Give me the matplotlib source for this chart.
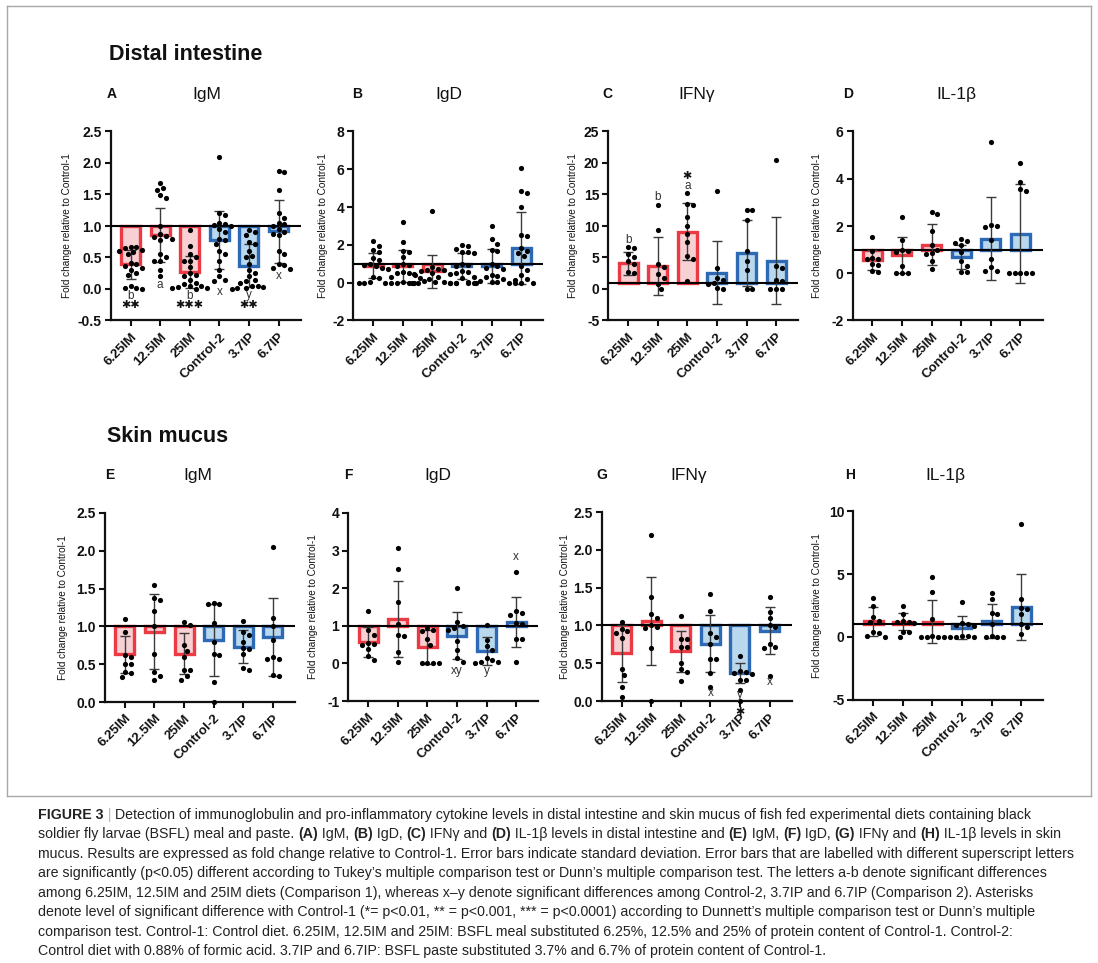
import numpy as np
import matplotlib
matplotlib.use('Agg')
import matplotlib.pyplot as plt
from matplotlib import font_manager
from matplotlib.font_manager import FontProperties
from matplotlib.lines import Line2D

W, H = 1098, 963

categories = ["6.25IM", "12.5IM", "25IM", "Control-2", "3.7IP", "6.7IP"]

# ---------------- Distal intestine ----------------
# (A) IgM
a_means = [0.39, 0.86, 0.27, 0.78, 0.37, 0.92]
a_sds = [0.23, 0.43, 0.25, 0.46, 0.34, 0.50]
a_points = [
    [0.67, 0.66, 0.65, 0.62, 0.60, 0.58, 0.56, 0.42, 0.40, 0.37, 0.33, 0.30, 0.25, 0.22, 0.04, 0.02, 0.01, 0.0],
    [1.69, 1.60, 1.57, 1.49, 1.45, 1.00, 0.88, 0.84, 0.82, 0.80, 0.78, 0.55, 0.50, 0.45, 0.44, 0.30, 0.20],
    [0.94, 0.68, 0.55, 0.50, 0.45, 0.44, 0.35, 0.25, 0.22, 0.20, 0.15, 0.10, 0.08, 0.05, 0.04, 0.03, 0.02, 0.01, 0.0],
    [2.09, 1.20, 1.18, 1.05, 1.03, 1.02, 1.00, 0.95, 0.90, 0.80, 0.78, 0.72, 0.60, 0.55, 0.45, 0.30, 0.20, 0.15, 0.13],
    [0.93, 0.90, 0.85, 0.75, 0.72, 0.60, 0.52, 0.50, 0.40, 0.30, 0.25, 0.20, 0.15, 0.12, 0.10, 0.05, 0.04, 0.03, 0.02, 0.01, 0.0],
    [1.88, 1.85, 1.57, 1.20, 1.13, 1.05, 1.03, 1.00, 0.95, 0.90, 0.88, 0.85, 0.60, 0.55, 0.40, 0.38, 0.33, 0.32],
]
# (B) IgD
b_means = [0.90, 0.88, 0.60, 0.88, 0.88, 1.85]
b_sds = [0.65, 0.85, 0.88, 0.67, 0.90, 1.90]
b_points = [
    [2.2, 1.95, 1.75, 1.6, 1.3, 1.2, 1.0, 0.95, 0.9, 0.8, 0.7, 0.3, 0.25, 0.02, 0.0, 0.0, 0.0, 0.0],
    [3.2, 2.15, 1.7, 1.6, 1.35, 1.0, 0.95, 0.9, 0.55, 0.5, 0.5, 0.45, 0.3, 0.25, 0.05, 0.0, 0.0, 0.0],
    [3.82, 0.85, 0.7, 0.68, 0.65, 0.6, 0.5, 0.45, 0.4, 0.3, 0.2, 0.1, 0.05, 0.02, 0.0, 0.0, 0.0, 0.0],
    [2.0, 1.95, 1.8, 1.65, 1.6, 1.55, 1.0, 0.95, 0.9, 0.6, 0.55, 0.5, 0.3, 0.25, 0.02, 0.0, 0.0, 0.0],
    [3.0, 2.3, 2.05, 1.75, 1.7, 1.0, 0.9, 0.8, 0.75, 0.4, 0.35, 0.3, 0.2, 0.1, 0.05, 0.02, 0.0, 0.0, 0.0, 0.0],
    [6.05, 4.85, 4.75, 4.0, 2.5, 2.45, 1.85, 1.7, 1.55, 1.4, 0.9, 0.65, 0.4, 0.2, 0.15, 0.0, 0.0],
]
# (C) IFNγ
c_means = [4.1, 3.7, 9.1, 2.6, 5.7, 4.45]
c_sds = [1.8, 4.6, 4.5, 5.0, 5.2, 6.9]
c_points = [
    [6.6, 6.5, 5.6, 5.0, 4.4, 4.0, 2.7, 2.5],
    [13.3, 9.3, 4.0, 3.5, 2.4, 1.8, 0.8, 0.0],
    [15.2, 13.5, 13.3, 11.5, 10.0, 8.8, 7.5, 5.3, 4.7, 1.2],
    [15.6, 3.4, 1.8, 1.5, 1.0, 0.8, 0.1, 0.0],
    [12.6, 12.6, 10.9, 6.0, 4.5, 3.0, 0.0, 0.0],
    [20.4, 3.6, 3.4, 1.5, 1.2, 0.0, 0.0, 0.0],
]
# (D) IL-1β
d_means = [0.57, 0.78, 1.20, 0.70, 1.47, 1.68]
d_sds = [0.42, 0.77, 0.87, 0.50, 1.74, 2.08]
d_points = [
    [1.52, 0.95, 0.65, 0.62, 0.6, 0.4, 0.35, 0.1, 0.05],
    [2.38, 1.4, 1.0, 0.95, 0.9, 0.3, 0.0, 0.0, 0.0],
    [2.6, 2.5, 1.8, 1.2, 1.0, 0.85, 0.8, 0.5, 0.2],
    [1.45, 1.35, 1.3, 1.2, 0.9, 0.5, 0.3, 0.05, 0.05],
    [5.57, 2.05, 1.98, 1.95, 1.4, 0.6, 0.25, 0.1, 0.1],
    [4.65, 3.85, 3.55, 3.5, 0.0, 0.0, 0.0, 0.0, 0.0],
]

# ---------------- Skin mucus ----------------
# (E) IgM
e_means = [0.63, 0.93, 0.64, 0.82, 0.73, 0.86]
e_sds = [0.24, 0.50, 0.27, 0.47, 0.22, 0.51]
e_points = [
    [1.1, 0.92, 0.62, 0.6, 0.5, 0.5, 0.4, 0.38, 0.33],
    [1.55, 1.38, 1.35, 1.2, 1.0, 0.64, 0.4, 0.34, 0.29],
    [1.06, 1.02, 0.75, 0.68, 0.6, 0.42, 0.42, 0.35, 0.29],
    [1.31, 1.3, 1.29, 1.04, 0.8, 0.63, 0.62, 0.26, 0.0],
    [1.07, 0.93, 0.88, 0.8, 0.72, 0.7, 0.64, 0.45, 0.42],
    [2.05, 1.11, 1.0, 0.82, 0.6, 0.57, 0.57, 0.36, 0.34],
]
# (F) IgD
f_means = [0.58, 1.18, 0.44, 0.74, 0.32, 1.10]
f_sds = [0.40, 1.00, 0.45, 0.62, 0.37, 0.67]
f_points = [
    [1.4, 0.88, 0.75, 0.55, 0.52, 0.5, 0.38, 0.2, 0.08],
    [3.07, 2.5, 1.63, 1.05, 0.75, 0.73, 0.3, 0.04],
    [0.95, 0.9, 0.85, 0.65, 0.5, 0.0, 0.0, 0.0, 0.0],
    [2.0, 1.1, 1.0, 0.95, 0.9, 0.6, 0.35, 0.15, 0.05],
    [1.02, 0.62, 0.45, 0.35, 0.15, 0.1, 0.05, 0.03, 0.02],
    [2.42, 1.4, 1.33, 1.3, 1.08, 1.05, 0.65, 0.65, 0.05],
]
# (G) IFNγ
g_means = [0.63, 1.06, 0.66, 0.76, 0.37, 0.93]
g_sds = [0.38, 0.58, 0.27, 0.38, 0.13, 0.31]
g_points = [
    [1.04, 0.95, 0.92, 0.9, 0.83, 0.42, 0.35, 0.18, 0.05],
    [2.2, 1.38, 1.15, 1.1, 1.0, 0.98, 0.97, 0.7, 0.0],
    [1.12, 0.82, 0.82, 0.72, 0.72, 0.5, 0.42, 0.38, 0.26],
    [1.42, 1.19, 0.9, 0.85, 0.75, 0.55, 0.55, 0.37, 0.18],
    [0.6, 0.4, 0.38, 0.37, 0.36, 0.28, 0.28, 0.14, 0.0],
    [1.37, 1.18, 1.1, 1.0, 0.98, 0.75, 0.72, 0.7, 0.33],
]
# (H) IL-1β
h_means = [1.24, 1.20, 1.22, 0.72, 1.27, 2.38]
h_sds = [1.15, 0.68, 1.75, 0.93, 1.35, 2.62]
h_points = [
    [3.1, 2.45, 1.6, 1.3, 1.2, 0.4, 0.3, 0.1, 0.0],
    [2.45, 1.8, 1.3, 1.2, 1.15, 1.1, 0.4, 0.35, 0.0],
    [4.75, 3.55, 1.45, 0.05, 0.0, 0.0, 0.0, 0.0, 0.0],
    [2.8, 1.1, 1.0, 0.95, 0.85, 0.1, 0.05, 0.0, 0.0],
    [3.5, 3.0, 1.9, 1.8, 1.0, 0.1, 0.0, 0.0, 0.0],
    [9.0, 3.05, 2.3, 2.25, 1.8, 1.0, 0.8, 0.2],
]

# significance letters (category index, y, text) and asterisks (category index, y, count)
a_letters = [(0, -0.11, 'b'), (1, 0.07, 'a'), (2, -0.11, 'b'), (3, -0.05, 'x'), (4, -0.10, 'y'), (5, 0.20, 'x')]
a_stars = [(0, -0.255, 2), (2, -0.255, 3), (4, -0.255, 2)]
c_letters = [(0, 7.8, 'b'), (1, 14.6, 'b'), (2, 16.3, 'a')]
c_stars = [(2, 18.0, 1)]
f_letters = [(3, -0.21, 'xy'), (4, -0.21, 'y'), (5, 2.83, 'x')]
g_letters = [(3, 0.10, 'x'), (4, 0.075, 'y'), (5, 0.25, 'x')]
g_stars = [(4, -0.14, 1)]

panel_titles = ["IgM", "IgD", "IFNγ", "IL-1β", "IgM", "IgD", "IFNγ", "IL-1β"]
panel_letters = ["A", "B", "C", "D", "E", "F", "G", "H"]

# ---------------- styling / layout ----------------
RED_EDGE, RED_FILL = "#ec3a44", "#f7d0d3"
BLUE_EDGE, BLUE_FILL = "#2e69b5", "#b9d8ee"
edge_cols = [RED_EDGE] * 3 + [BLUE_EDGE] * 3
fill_cols = [RED_FILL] * 3 + [BLUE_FILL] * 3
SANS = ['Liberation Sans', 'DejaVu Sans']
XLIM = (-0.67, 5.75)

panels = [
    dict(m=a_means, s=a_sds, p=a_points, left=110.7, top=131.5, bot=320.5, ylim=(-0.5, 2.5),
         ticks=np.arange(-0.5, 2.51, 0.5), fmt="{:.1f}", ylx=67, let=(112, 94), tit=(207, 94),
         letters=a_letters, stars=a_stars),
    dict(m=b_means, s=b_sds, p=b_points, left=353.3, top=131.5, bot=320.5, ylim=(-2, 8),
         ticks=np.arange(-2, 8.1, 2), fmt="{:.0f}", ylx=323, let=(357, 94), tit=(449, 94),
         letters=[], stars=[]),
    dict(m=c_means, s=c_sds, p=c_points, left=608.3, top=131.5, bot=320.5, ylim=(-5, 25),
         ticks=np.arange(-5, 25.1, 5), fmt="{:.0f}", ylx=573, let=(607, 94), tit=(697, 94),
         letters=c_letters, stars=c_stars),
    dict(m=d_means, s=d_sds, p=d_points, left=852.5, top=131.5, bot=320.5, ylim=(-2, 6),
         ticks=np.arange(-2, 6.1, 2), fmt="{:.0f}", ylx=817, let=(848, 94), tit=(956, 94),
         letters=[], stars=[]),
    dict(m=e_means, s=e_sds, p=e_points, left=105.0, top=513.0, bot=702.0, ylim=(0, 2.5),
         ticks=np.arange(0, 2.51, 0.5), fmt="{:.1f}", ylx=63, let=(110, 475), tit=(198, 475),
         letters=[], stars=[]),
    dict(m=f_means, s=f_sds, p=f_points, left=348.3, top=513.0, bot=701.0, ylim=(-1, 4),
         ticks=np.arange(-1, 4.1, 1), fmt="{:.0f}", ylx=313, let=(348, 475), tit=(438, 475),
         letters=f_letters, stars=[]),
    dict(m=g_means, s=g_sds, p=g_points, left=601.7, top=512.0, bot=701.0, ylim=(0, 2.5),
         ticks=np.arange(0, 2.51, 0.5), fmt="{:.1f}", ylx=565, let=(602, 475), tit=(689, 475),
         letters=g_letters, stars=g_stars),
    dict(m=h_means, s=h_sds, p=h_points, left=853.3, top=511.5, bot=699.5, ylim=(-5, 10),
         ticks=np.arange(-5, 10.1, 5), fmt="{:.0f}", ylx=817, let=(850, 475), tit=(945, 475),
         letters=[], stars=[]),
]

PX_PER_CAT = 29.6
AX_W = (XLIM[1] - XLIM[0]) * PX_PER_CAT


def fx(x):
    return x / W


def fy(y):
    return 1 - y / H


def swarm_offsets(vals, ppu_y, d=5.8):
    """Simple deterministic beeswarm; returns offsets in category units."""
    vals = np.asarray(vals, float)
    order = np.argsort(-vals, kind='stable')
    placed = []
    offs = np.zeros(len(vals))
    cands = [0.0]
    for j in range(1, 40):
        cands += [j * d * 0.5, -j * d * 0.5]
    for i in order:
        ypx = vals[i] * ppu_y
        for c in cands:
            ok = True
            for (px, py) in placed:
                if (px - c) ** 2 + (py - ypx) ** 2 < (d * 0.98) ** 2:
                    ok = False
                    break
            if ok:
                placed.append((c, ypx))
                offs[i] = c / PX_PER_CAT
                break
    return offs


fig = plt.figure(figsize=(W / 100, H / 100), dpi=100)
fig.patch.set_facecolor('white')

# outer frame of the figure image
frame_kw = dict(color='#a8a8a8', lw=1.0, transform=fig.transFigure)
fig.add_artist(Line2D([fx(7), fx(1091)], [fy(6), fy(6)], **frame_kw))
fig.add_artist(Line2D([fx(7), fx(7)], [fy(6), fy(796)], **frame_kw))
fig.add_artist(Line2D([fx(1091), fx(1091)], [fy(6), fy(796)], **frame_kw))
fig.add_artist(Line2D([fx(7), fx(1091)], [fy(796), fy(796)], **frame_kw))

# section headings
fig.text(fx(109), fy(54), "Distal intestine", fontsize=15.5, fontweight='bold', family=SANS,
         va='center', ha='left', color='#111111')
fig.text(fx(107), fy(436), "Skin mucus", fontsize=15.5, fontweight='bold', family=SANS,
         va='center', ha='left', color='#111111')

x = np.arange(len(categories))
for k, P in enumerate(panels):
    hpx = P['bot'] - P['top']
    ax = fig.add_axes([fx(P['left']), fy(P['bot']), AX_W / W, hpx / H])
    ymin, ymax = P['ylim']
    ax.set_xlim(*XLIM)
    ax.set_ylim(ymin, ymax)
    ppu_y = hpx / (ymax - ymin)

    means = np.array(P['m'])
    sds = np.array(P['s'])
    ax.bar(x, means - 1.0, bottom=1.0, width=0.64, color=fill_cols, edgecolor=edge_cols,
           linewidth=2.4, zorder=2)
    ax.axhline(1.0, color='black', lw=1.5, zorder=3)
    ax.errorbar(x, means, yerr=sds, fmt='none', ecolor='#3a3a3a', elinewidth=1.0,
                capsize=3.6, capthick=1.0, zorder=4)
    for i, vals in enumerate(P['p']):
        offs = swarm_offsets(vals, ppu_y)
        ax.scatter(i + offs, vals, s=14, color='black', zorder=5, linewidths=0, clip_on=False)

    for (ci, yy, t) in P['letters']:
        ax.text(ci, yy, t, ha='center', va='center', fontsize=8.5, color='#333333',
                family=SANS, zorder=6, clip_on=False)
    for (ci, yy, n) in P['stars']:
        ax.text(ci, yy, "✱" * n, ha='center', va='center', fontsize=8, color='#111111',
                family=['DejaVu Sans'], zorder=6, clip_on=False)

    for sp in ['top', 'right']:
        ax.spines[sp].set_visible(False)
    for sp in ['left', 'bottom']:
        ax.spines[sp].set_linewidth(1.6)
        ax.spines[sp].set_color('#111111')
    ax.set_yticks(P['ticks'], labels=[P['fmt'].format(t) for t in P['ticks']],
                  fontweight='bold', fontsize=10, family=SANS)
    ax.set_xticks(x, labels=categories, rotation=45, ha='right', rotation_mode='anchor',
                  fontweight='bold', fontsize=9.5, family=SANS)
    ax.tick_params(axis='both', direction='out', length=4.5, width=1.5, color='#111111',
                   labelcolor='#111111')
    ax.tick_params(axis='y', pad=2)
    ax.tick_params(axis='x', pad=3)
    ax.patch.set_alpha(0)

    cy = (P['top'] + P['bot']) / 2
    fig.text(fx(P['ylx']), fy(cy), "Fold change relative to Control-1", rotation=90,
             ha='center', va='center', fontsize=7.2, family=SANS, color='#111111')
    fig.text(fx(P['let'][0]), fy(P['let'][1]), panel_letters[k], ha='center', va='center',
             fontsize=10, fontweight='bold', family=SANS, color='#111111')
    fig.text(fx(P['tit'][0]), fy(P['tit'][1]), panel_titles[k], ha='center', va='center',
             fontsize=12.5, family=SANS, color='#111111')

# ---------------- caption ----------------
caption_lines = [
    [("FIGURE 3", 'b'), (" | ", 'g'), ("Detection of immunoglobulin and pro-inflammatory cytokine levels in distal intestine and skin mucus of fish fed experimental diets containing black", 'n')],
    [("soldier fly larvae (BSFL) meal and paste. ", 'n'), ("(A)", 'b'), (" IgM, ", 'n'), ("(B)", 'b'), (" IgD, ", 'n'),
     ("(C)", 'b'), (" IFNγ and ", 'n'), ("(D)", 'b'), (" IL-1β levels in distal intestine and ", 'n'), ("(E)", 'b'),
     (" IgM, ", 'n'), ("(F)", 'b'), (" IgD, ", 'n'), ("(G)", 'b'), (" IFNγ and ", 'n'), ("(H)", 'b'),
     (" IL-1β levels in skin", 'n')],
    [("mucus. Results are expressed as fold change relative to Control-1. Error bars indicate standard deviation. Error bars that are labelled with different superscript letters", 'n')],
    [("are significantly (p<0.05) different according to Tukey’s multiple comparison test or Dunn’s multiple comparison test. The letters a-b denote significant differences", 'n')],
    [("among 6.25IM, 12.5IM and 25IM diets (Comparison 1), whereas x–y denote significant differences among Control-2, 3.7IP and 6.7IP (Comparison 2). Asterisks", 'n')],
    [("denote level of significant difference with Control-1 (*= p<0.01, ** = p<0.001, *** = p<0.0001) according to Dunnett’s multiple comparison test or Dunn’s multiple", 'n')],
    [("comparison test. Control-1: Control diet. 6.25IM, 12.5IM and 25IM: BSFL meal substituted 6.25%, 12.5% and 25% of protein content of Control-1. Control-2:", 'n')],
    [("Control diet with 0.88% of formic acid. 3.7IP and 6.7IP: BSFL paste substituted 3.7% and 6.7% of protein content of Control-1.", 'n')],
]


def have_font(name):
    try:
        font_manager.findfont(FontProperties(family=name), fallback_to_default=False)
        return True
    except Exception:
        return False


cap_fam = 'Liberation Sans Narrow' if have_font('Liberation Sans Narrow') else 'Liberation Sans'
cap_families = [cap_fam, 'DejaVu Sans']

fig.canvas.draw()
renderer = fig.canvas.get_renderer()


def adv(s, fp):
    w1, _, _ = renderer.get_text_width_height_descent("x" + s + "x", fp, ismath=False)
    w0, _, _ = renderer.get_text_width_height_descent("xx", fp, ismath=False)
    return w1 - w0


def fprop(kind, size):
    if kind == 'b':
        return FontProperties(family=cap_families, weight='bold', size=size)
    return FontProperties(family=cap_families, weight='normal', size=size)


# fit font size so that the longest line spans the measured width
target = 1038.0
test = fprop('n', 10)
w10 = adv(caption_lines[2][0][0], test)
cap_size = 10 * target / w10

x0 = 38.0
base0 = 819.0
lstep = 19.45
for li, segs in enumerate(caption_lines):
    xx = x0
    yb = base0 + li * lstep
    for (s, kind) in segs:
        fp = fprop(kind, cap_size)
        col = '#b5b5b5' if kind == 'g' else '#222222'
        fig.text(fx(xx), fy(yb), s, fontproperties=fp, color=col, ha='left', va='baseline')
        xx += adv(s, fp)

fig.savefig("out.png", dpi=100, facecolor='white')
